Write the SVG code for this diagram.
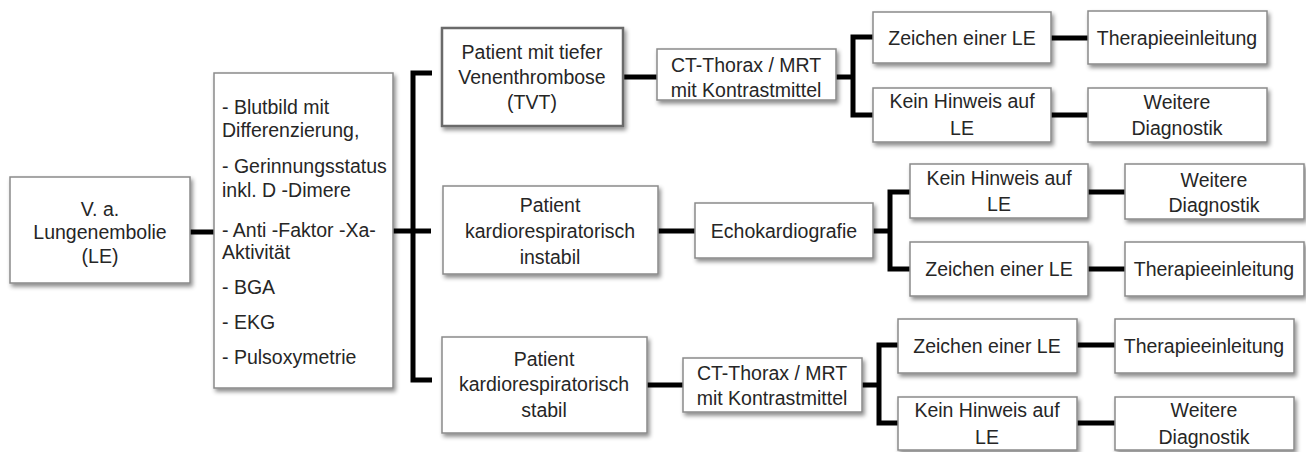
<svg xmlns="http://www.w3.org/2000/svg" width="1306" height="452" viewBox="0 0 1306 452">
<style>
.box{fill:#ffffff;stroke:#8a8a8a;stroke-width:1.5;filter:url(#sh)}
.box2{fill:#ffffff;stroke:#6a6a6a;stroke-width:2.5;filter:url(#sh)}
text{font-family:"Liberation Sans",Arial,sans-serif;font-size:19.5px;fill:#262626}
.c{text-anchor:middle}
.conn path{fill:none;stroke:#000;stroke-width:5;stroke-linejoin:miter;stroke-linecap:butt}
</style>
<defs>
<filter id="sh" x="-10%" y="-10%" width="125%" height="135%">
<feDropShadow dx="2" dy="3" stdDeviation="2" flood-color="#000" flood-opacity="0.45"/>
</filter>
</defs>
<rect width="1306" height="452" fill="#ffffff"/>
<g class="conn" id="connectors">
<path d="M190,232 H224"/>
<path d="M393,231 H413"/>
<path d="M432,73 H413 V380 H432"/>
<path d="M413,231 H431"/>
<path d="M623,77 H657"/>
<path d="M836,77 H853"/>
<path d="M873,37 H853 V115 H873"/>
<path d="M1051,38 H1088"/>
<path d="M1051,115 H1088"/>
<path d="M658,231 H695"/>
<path d="M873,231 H890"/>
<path d="M910,192 H890 V269 H910"/>
<path d="M1088,192 H1125"/>
<path d="M1088,269 H1125"/>
<path d="M647,385 H683"/>
<path d="M862,385 H879"/>
<path d="M898,345 H879 V423 H898"/>
<path d="M1077,345 H1115"/>
<path d="M1077,423 H1115"/>
</g>
<g id="n1"><rect class="box" x="10" y="177" width="180" height="106"/>
<text class="c" x="100" y="216">V. a.</text><text class="c" x="100" y="239">Lungenembolie</text><text class="c" x="100" y="263">(LE)</text></g>
<g id="n2"><rect class="box" x="214" y="73" width="179" height="315"/>
<text x="222" y="114">- Blutbild mit</text>
<text x="222" y="137">Differenzierung,</text>
<text x="222" y="173">- Gerinnungsstatus</text>
<text x="222" y="197">inkl. D -Dimere</text>
<text x="222" y="237">- Anti -Faktor -Xa-</text>
<text x="222" y="259">Aktivität</text>
<text x="222" y="294">- BGA</text>
<text x="222" y="329">- EKG</text>
<text x="222" y="364">- Pulsoxymetrie</text></g>
<g id="n3"><rect class="box2" x="442" y="28" width="181" height="98"/>
<text class="c" x="532" y="59">Patient mit tiefer</text><text class="c" x="532" y="84">Venenthrombose</text><text class="c" x="532" y="109">(TVT)</text></g>
<g id="n4"><rect class="box" x="443" y="186" width="215" height="88"/>
<text class="c" x="550" y="212">Patient</text><text class="c" x="550" y="238">kardiorespiratorisch</text><text class="c" x="550" y="264">instabil</text></g>
<g id="n5"><rect class="box" x="442" y="337" width="205" height="96"/>
<text class="c" x="544" y="366">Patient</text><text class="c" x="544" y="391">kardiorespiratorisch</text><text class="c" x="544" y="417">stabil</text></g>
<g id="n6"><rect class="box" x="657" y="49" width="179" height="51"/>
<text class="c" x="746" y="72">CT-Thorax / MRT</text><text class="c" x="746" y="97">mit Kontrastmittel</text></g>
<g id="n7"><rect class="box" x="695" y="203" width="178" height="55"/>
<text class="c" x="784" y="238">Echokardiografie</text></g>
<g id="n8"><rect class="box" x="683" y="358" width="179" height="54"/>
<text class="c" x="772" y="380">CT-Thorax / MRT</text><text class="c" x="772" y="405">mit Kontrastmittel</text></g>
<g id="n9"><rect class="box" x="873" y="12" width="178" height="51"/>
<text class="c" x="962" y="45">Zeichen einer LE</text></g>
<g id="n10"><rect class="box" x="873" y="88" width="178" height="54"/>
<text class="c" x="962" y="108">Kein Hinweis auf</text><text class="c" x="962" y="135">LE</text></g>
<g id="n11"><rect class="box" x="1088" y="11" width="179" height="53"/>
<text class="c" x="1177" y="45">Therapieeinleitung</text></g>
<g id="n12"><rect class="box" x="1088" y="88" width="179" height="54"/>
<text class="c" x="1177" y="109">Weitere</text><text class="c" x="1177" y="135">Diagnostik</text></g>
<g id="n13"><rect class="box" x="910" y="164" width="178" height="54"/>
<text class="c" x="999" y="185">Kein Hinweis auf</text><text class="c" x="999" y="211">LE</text></g>
<g id="n14"><rect class="box" x="1125" y="164" width="179" height="55"/>
<text class="c" x="1214" y="187">Weitere</text><text class="c" x="1214" y="212">Diagnostik</text></g>
<g id="n15"><rect class="box" x="910" y="242" width="178" height="54"/>
<text class="c" x="999" y="276">Zeichen einer LE</text></g>
<g id="n16"><rect class="box" x="1125" y="242" width="179" height="54"/>
<text class="c" x="1214" y="276">Therapieeinleitung</text></g>
<g id="n17"><rect class="box" x="898" y="319" width="179" height="54"/>
<text class="c" x="987" y="353">Zeichen einer LE</text></g>
<g id="n18"><rect class="box" x="1115" y="319" width="179" height="54"/>
<text class="c" x="1204" y="353">Therapieeinleitung</text></g>
<g id="n19"><rect class="box" x="898" y="397" width="179" height="53"/>
<text class="c" x="987" y="417">Kein Hinweis auf</text><text class="c" x="987" y="444">LE</text></g>
<g id="n20"><rect class="box" x="1115" y="397" width="179" height="53"/>
<text class="c" x="1204" y="417">Weitere</text><text class="c" x="1204" y="444">Diagnostik</text></g>
</svg>
